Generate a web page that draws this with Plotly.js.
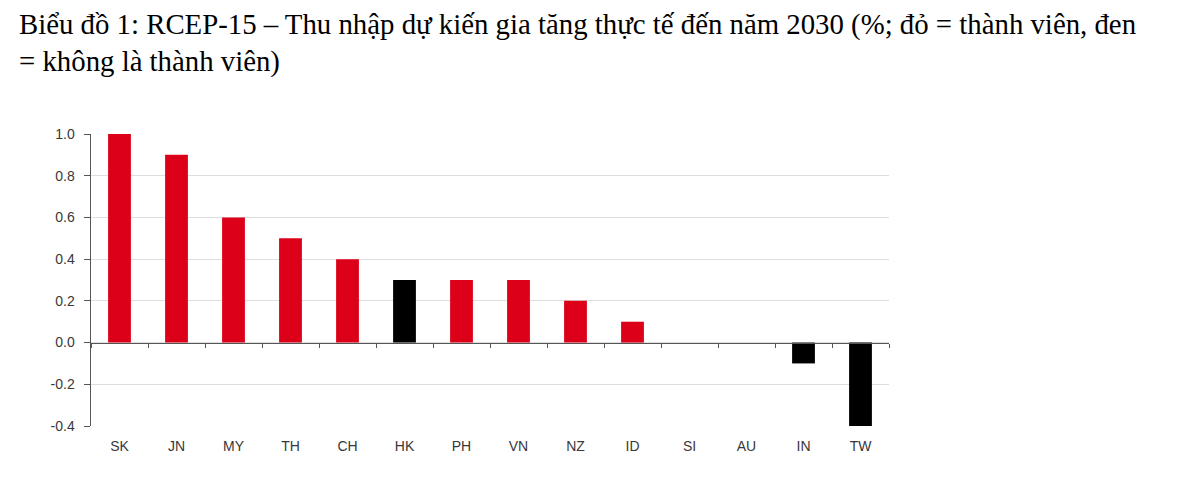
<!DOCTYPE html>
<html>
<head>
<meta charset="utf-8">
<script src="https://cdn.plot.ly/plotly-3.0.1.min.js"></script>
<style>
  body { margin: 0; background: #fff; }
  #chart { width: 1200px; height: 480px; }
</style>
</head>
<body>
<div id="chart"></div>
<script>
// RCEP-15: projected real income gains by 2030 (%)
var countries = ['SK', 'JN', 'MY', 'TH', 'CH', 'HK', 'PH', 'VN', 'NZ', 'ID', 'SI', 'AU', 'IN', 'TW'];
var gains = [1.0, 0.9, 0.6, 0.5, 0.4, 0.3, 0.3, 0.3, 0.2, 0.1, 0.0, 0.0, -0.1, -0.4];
var member = [true, true, true, true, true, false, true, true, true, true, true, true, false, false];
var yTicks = [-0.4, -0.2, 0.0, 0.2, 0.4, 0.6, 0.8, 1.0];
var titleText = 'Biểu đồ 1: RCEP-15 – Thu nhập dự kiến gia tăng thực tế đến năm 2030 (%; đỏ = thành viên, đen<br>= không là thành viên)';

function drawChart() {
    var LOC = document.getElementById('chart');

    var barColors = member.map(function (m) { return m ? '#dc0018' : '#000000'; });

    var trace = {
        x: countries,
        y: gains,
        type: 'bar',
        marker: { color: barColors, line: { width: 0 } },
        hoverinfo: 'x+y'
    };

    // invisible helper so the zero-line axis with boundary ticks is drawn
    var zeroAxis = {
        x: [],
        y: [],
        xaxis: 'x2',
        yaxis: 'y',
        type: 'scatter',
        showlegend: false
    };

    var layout = {
        width: 1200,
        height: 480,
        paper_bgcolor: '#ffffff',
        plot_bgcolor: '#ffffff',
        showlegend: false,
        bargap: 0.6,
        margin: { l: 91, r: 311, t: 134, b: 54 },
        annotations: [{
            text: titleText,
            xref: 'paper',
            yref: 'paper',
            x: (17 - 91) / 798,
            y: (426 - 6) / 292,
            xanchor: 'left',
            yanchor: 'top',
            align: 'left',
            showarrow: false,
            font: { family: '"Liberation Serif", "DejaVu Serif", serif', size: 28.8, color: '#000' }
        }],
        xaxis: {
            type: 'category',
            showline: false,
            ticks: '',
            showgrid: false,
            zeroline: false,
            tickfont: { family: '"Liberation Sans", Arial, sans-serif', size: 14, color: '#383838' },
            ticklabelstandoff: 10
        },
        xaxis2: {
            overlaying: 'x',
            anchor: 'free',
            position: 0.4 / 1.4,
            range: [-0.5, 13.5],
            tick0: -0.5,
            dtick: 1,
            ticks: 'outside',
            ticklen: 4,
            tickcolor: '#555',
            showline: true,
            linecolor: '#555',
            linewidth: 1.5,
            showticklabels: false,
            showgrid: false,
            zeroline: false,
            fixedrange: true
        },
        yaxis: {
            range: [-0.4, 1.0],
            tickvals: yTicks,
            ticktext: yTicks.map(function (v) { return v.toFixed(1); }),
            ticks: 'outside',
            ticklen: 6,
            tickcolor: '#555',
            showline: true,
            linecolor: '#555',
            linewidth: 1.5,
            showgrid: true,
            gridcolor: '#dedede',
            gridwidth: 1,
            zeroline: false,
            ticklabelstandoff: 6,
            tickfont: { family: '"Liberation Sans", Arial, sans-serif', size: 14, color: '#383838' }
        }
    };

    Plotly.newPlot(LOC, [trace, zeroAxis], layout, { displayModeBar: false, staticPlot: true });
}

drawChart();
</script>
</body>
</html>
